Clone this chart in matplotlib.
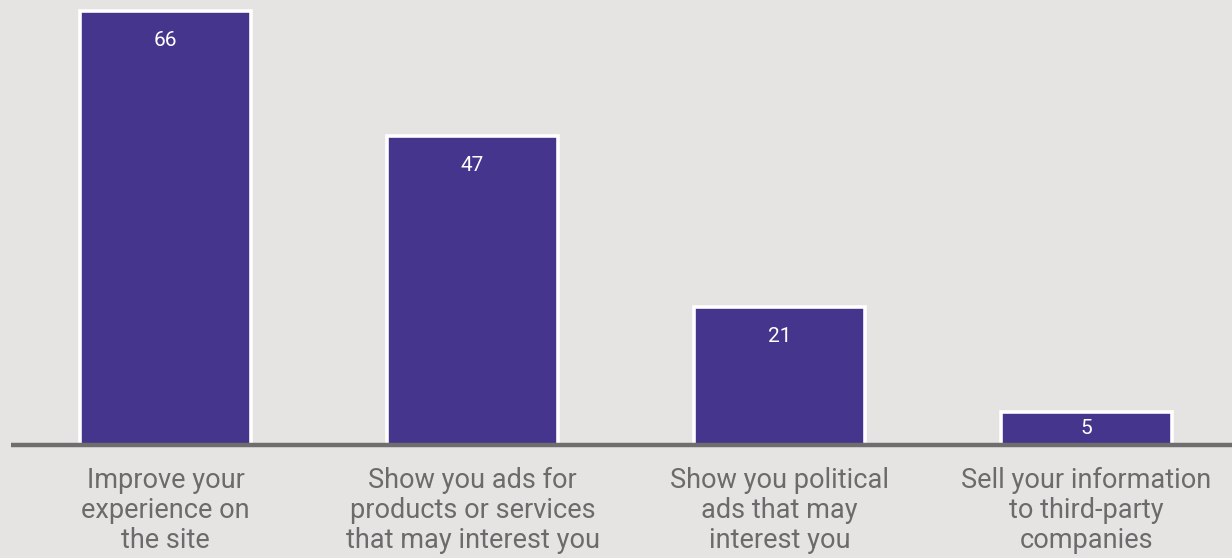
import matplotlib
matplotlib.use("Agg")
import matplotlib.pyplot as plt

categories = ["Improve your\nexperience on\nthe site",
              "Show you ads for\nproducts or services\nthat may interest you",
              "Show you political\nads that may\ninterest you",
              "Sell your information\nto third-party\ncompanies"]
values = [66, 47, 21, 5]

BG = "#e5e4e2"
BAR = "#46358c"
W, H = 1232, 558
fig = plt.figure(figsize=(W/100, H/100), dpi=100, facecolor=BG)

ppu = 6.57
base_px = 445
ax_left, ax_right = 11, 1232
ax = fig.add_axes([ax_left/W, (H-base_px)/H, (ax_right-ax_left)/W, base_px/H])
ax.set_facecolor(BG)
ax.set_ylim(0, base_px/ppu)
x = list(range(len(values)))
ax.set_xlim(-(165.5-11)/307, (1232-165.5)/307)
ax.bar(x, values, width=171.5/307, color=BAR, edgecolor="white", linewidth=2.6, zorder=2)
ax.axhline(0, color="#6e6e6e", linewidth=3.2, zorder=3, clip_on=False,
           solid_capstyle="butt")
for xi, v in zip(x, values):
    y = max(v - 4.5, v/2)
    ax.text(xi, y, str(v), ha="center", va="center", color="white",
            fontsize=15, family="Roboto", zorder=4)
for s in ax.spines.values():
    s.set_visible(False)
ax.set_xticks([])
ax.set_yticks([])
for xi, c in zip(x, categories):
    ax.text(xi, -(467-base_px)/ppu, c, ha="center", va="top", color="#6b6b6b",
            fontsize=19.5, family="Roboto", linespacing=1.14, zorder=4,
            clip_on=False)
fig.savefig("out.png", dpi=100, facecolor=BG)
